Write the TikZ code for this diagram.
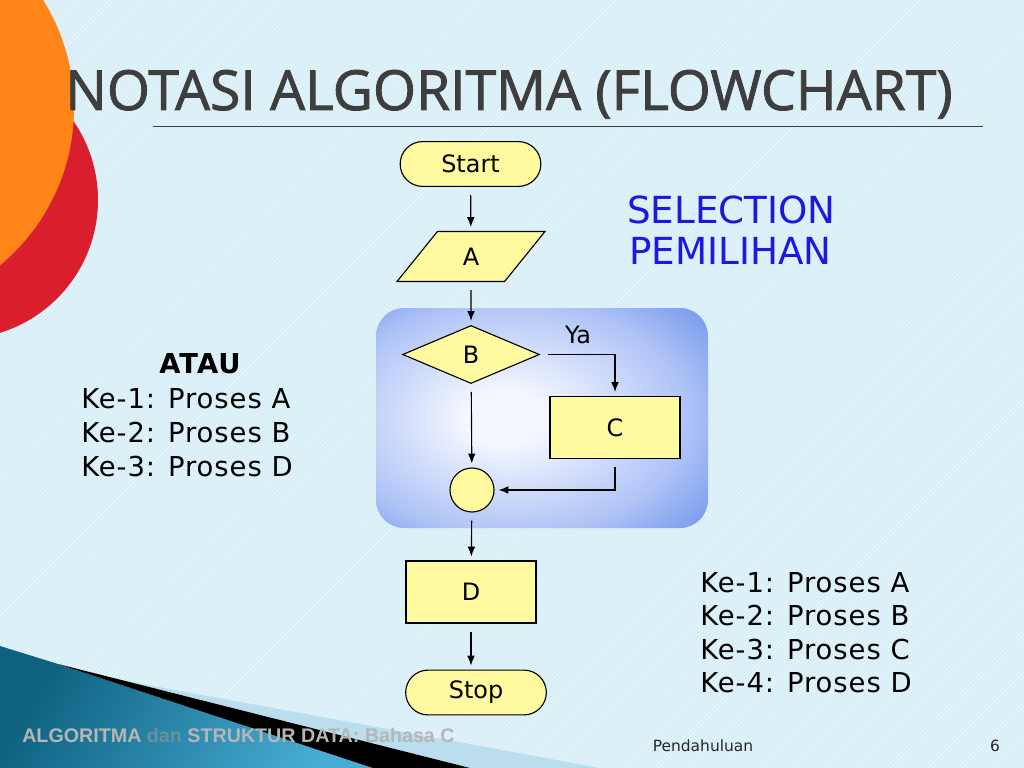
\documentclass[tikz,border=0pt]{standalone}
\usepackage{fontspec}
\setmainfont{DejaVu Sans}
\newfontfamily\judulfont[FakeBold=1.6]{Open Sans}
\newfontfamily\daftarfont[LetterSpace=3.5]{DejaVu Sans}
\newfontfamily\kakifont{Liberation Sans}
\usetikzlibrary{shapes.geometric,shapes.misc,arrows.meta,patterns}
\definecolor{latar}{RGB}{216,238,246}
\definecolor{garis}{RGB}{236,248,252}
\definecolor{kuning}{RGB}{255,250,160}
\definecolor{oranye}{RGB}{255,133,25}
\definecolor{merah}{RGB}{217,31,45}
\definecolor{birutua}{RGB}{104,144,236}
\definecolor{birusedang}{RGB}{176,196,246}
\definecolor{birumuda}{RGB}{244,247,255}
\definecolor{biruteks}{RGB}{25,25,225}
\definecolor{judul}{RGB}{62,62,62}
\definecolor{teal1}{RGB}{14,98,128}
\definecolor{teal2}{RGB}{72,172,212}
\definecolor{pucat}{RGB}{186,222,238}
\definecolor{abu}{RGB}{182,182,182}
\pgfdeclareradialshading{cahaya}{\pgfpoint{-6bp}{0bp}}{color(0bp)=(birumuda); color(6bp)=(birumuda); color(26bp)=(birusedang); color(40bp)=(birutua); color(100bp)=(birutua)}
\tikzset{
	bagan/.style={draw, line width=0.8pt, fill=kuning, font=\fontsize{17}{20}\selectfont},
	kotak/.style={bagan, minimum width=3.25cm, minimum height=1.55cm},
	terminal/.style={bagan, rounded rectangle, minimum width=3.75cm, minimum height=1.12cm},
	masukan/.style={bagan, trapezium, trapezium left angle=60, trapezium right angle=120, trapezium stretches=true, minimum width=3.7cm, minimum height=1.25cm},
	pilihan/.style={bagan, diamond, inner sep=0pt, minimum width=3.42cm, minimum height=1.45cm},
	titik/.style={bagan, circle, inner sep=0pt, minimum size=1.1cm},
	panah/.style={-{Latex[length=7pt,width=5.5pt]}, line width=0.8pt, shorten <=0.2cm, shorten >=0.1cm},
	daftar/.style={anchor=base west, inner sep=0pt, font=\daftarfont\fontsize{19.5}{22}\selectfont},
}

\begin{document}
\begin{tikzpicture}[x=0.025cm, y=-0.025cm]
			%%%%% START %%%%%
			\useasboundingbox (0, 0) rectangle (1024, 768);
			\clip (0, 0) rectangle (1024, 768);
			\fill[latar] (0, 0) rectangle (1024, 768);
			\fill[pattern=north east lines, pattern color=garis] (0, 0) rectangle (1024, 768);
			
			% hiasan kiri atas
			\fill[merah] (-41, 200) circle (139);
			\fill[oranye] (-130, 108) circle (204);
			
			% hiasan kiri bawah
			\fill[pucat] (110, 678) -- (600, 768) -- (463, 768) -- cycle;
			\shade[left color=teal1, right color=teal2, shading angle=60] (0, 646) -- (58, 664) -- (373, 768) -- (0, 768) -- cycle;
			\fill[black] (58, 664) -- (470, 768) -- (373, 768) -- cycle;
			
			% judul
			\node[anchor=base west, inner sep=0pt, text=judul] (judul) at (65, 110) {\judulfont\fontsize{39.3}{44}\selectfont NOTASI ALGORITMA (FLOWCHART)};
			\draw[line width=0.7pt, color=judul] (153, 126) -- (983, 126);
			
			% kotak biru
			\shade[shading=cahaya, rounded corners=0.7cm] (376, 308) rectangle (708, 528);
			
			% bagan alir
			\node[terminal] (mulai) at (470.5, 164) {Start};
			\node[masukan] (masukA) at (471, 256.5) {A};
			\node[pilihan] (cekB) at (471, 354.5) {B};
			\node[kotak] (prosesC) at (615, 427.5) {C};
			\node[titik] (gabung) at (472, 490) {};
			\node[kotak] (prosesD) at (471, 592) {D};
			\node[terminal] (selesai) at (476, 692.5) {Stop};
			\node[anchor=base, inner sep=0pt, font=\fontsize{17}{20}\selectfont] (ya) at (578, 343) {Ya};
			
			\draw[panah] (mulai) -- (masukA);
			\draw[panah] (masukA) -- (cekB);
			\draw[panah] (cekB.east) -| (prosesC.north);
			\draw[panah] (cekB) -- (gabung);
			\draw[panah] (prosesC.south) |- (gabung.east);
			\draw[panah] (gabung) -- (prosesD);
			\draw[panah] (prosesD.south) -- (prosesD.south |- selesai.north);
			
			% teks samping
			\node[anchor=base west, inner sep=0pt, text=biruteks, font=\fontsize{26.5}{30}\selectfont] (seleksi) at (627, 223) {SELECTION};
			\node[anchor=base west, inner sep=0pt, text=biruteks, font=\fontsize{26.5}{30}\selectfont] (pemilihan) at (629, 264) {PEMILIHAN};
			
			\node[anchor=base, inner sep=0pt, font=\daftarfont\bfseries\fontsize{19.5}{22}\selectfont] (atau) at (200, 373) {ATAU};
			\foreach \isi [count=\k] in {A,B,D}
				\node[daftar] (kiri\k) at (81, {374+34*\k}) {Ke-\k: Proses \isi};
			\foreach \isi [count=\k] in {A,B,C,D}
				\node[daftar] (kanan\k) at (700, {558.5+33.5*\k}) {Ke-\k: Proses \isi};
			
			% kaki halaman
			\node[anchor=base west, inner sep=0pt, font=\kakifont\bfseries\fontsize{14}{16}\selectfont, text=abu] (kaki) at (22, 742) {ALGORITMA \textcolor{abu!55!teal1}{dan} STRUKTUR DATA: Bahasa C};
			\node[anchor=base, inner sep=0pt, font=\fontsize{11}{13}\selectfont, text=black!85] (bab) at (703, 751) {Pendahuluan};
			\node[anchor=base, inner sep=0pt, font=\fontsize{11}{13}\selectfont, text=black!85] (halaman) at (995, 751) {6};
			%%%%% END %%%%%
\end{tikzpicture}
\end{document}
